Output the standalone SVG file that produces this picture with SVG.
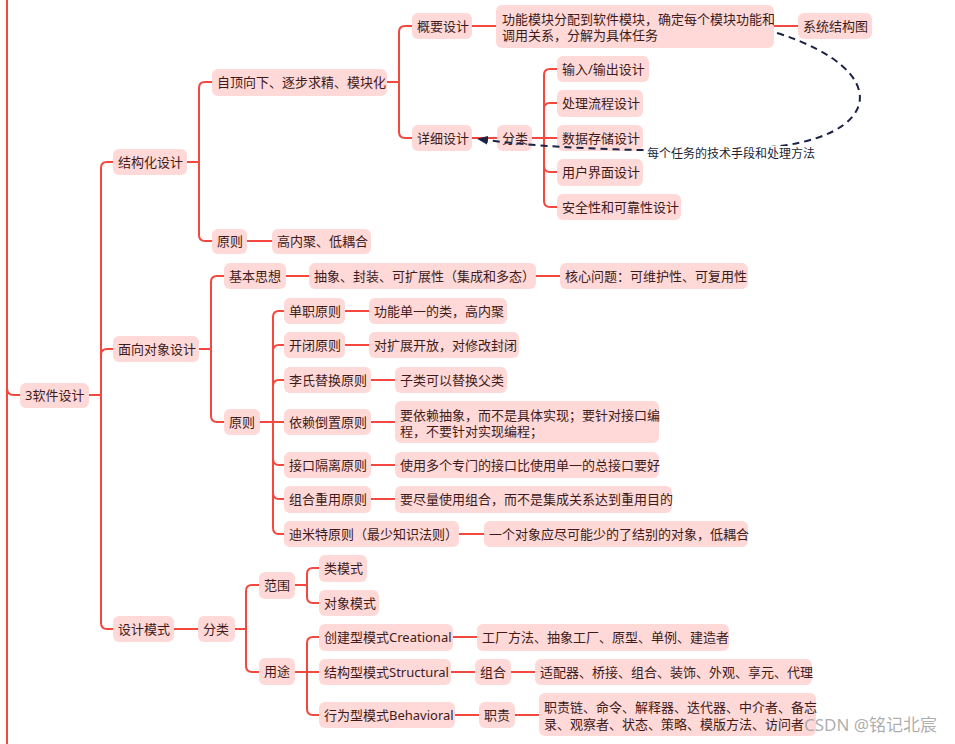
<svg xmlns="http://www.w3.org/2000/svg" width="955" height="744" viewBox="0 0 955 744">
<defs>
<style>
.n rect{fill:#fed9d7;}
.n text,.t{font-family:"Noto Sans","Noto Sans CJK SC",sans-serif;font-size:13px;fill:#3e1b1b;}
.c path{fill:none;stroke:#f4483f;stroke-width:2;}
.d{fill:none;stroke:#1b2244;stroke-width:2;stroke-dasharray:7 5;}
.lbl{font-family:"Noto Sans","Noto Sans CJK SC",sans-serif;font-size:12px;fill:#1b1f33;}
.wm{font-family:"Noto Sans","Noto Sans CJK SC",sans-serif;font-size:17px;fill:#a0a0a0;fill-opacity:0.85;}
</style>
<marker id="ah" markerWidth="11" markerHeight="9" refX="10" refY="4.5" orient="auto" markerUnits="userSpaceOnUse">
<path d="M0,0 L11,4.5 L0,9 z" fill="#1b2244"/>
</marker>
</defs>
<rect width="955" height="744" fill="#ffffff"/>

<g id="connectors" class="c">
<path d="M7 0 V744"/>
<path d="M7 388 Q7 395 14 395 H20"/>
<path d="M89 395 H101"/>
<path d="M101 395 V168 Q101 162 107 162 H113"/>
<path d="M101 395 V355 Q101 349 107 349 H113"/>
<path d="M101 395 V623 Q101 629 107 629 H113"/>

<path d="M187 162 H199"/>
<path d="M199 162 V88 Q199 82 205 82 H212"/>
<path d="M199 162 V235 Q199 241 205 241 H212"/>
<path d="M247 241 H272"/>

<path d="M387 82 H399"/>
<path d="M399 82 V32 Q399 26 405 26 H412"/>
<path d="M399 82 V132 Q399 138 405 138 H412"/>
<path d="M472 26 H496"/>
<path d="M774 26 H798"/>
<path d="M472 138 H497"/>
<path d="M532 138 H557"/>
<path d="M544 138 V75 Q544 69 550 69 H557"/>
<path d="M544 138 V109 Q544 103 550 103 H557"/>
<path d="M544 138 V166 Q544 172 550 172 H557"/>
<path d="M544 138 V201 Q544 207 550 207 H557"/>

<path d="M199 349 H211"/>
<path d="M211 349 V282 Q211 276 217 276 H224"/>
<path d="M211 349 V416 Q211 422 217 422 H224"/>
<path d="M286 276 H309"/>
<path d="M536 276 H560"/>
<path d="M260 422 H284"/>
<path d="M273 422 V317 Q273 311 279 311 H284"/>
<path d="M273 422 V351 Q273 345 279 345 H284"/>
<path d="M273 422 V386 Q273 380 279 380 H284"/>
<path d="M273 422 V459 Q273 465 279 465 H284"/>
<path d="M273 422 V493 Q273 499 279 499 H284"/>
<path d="M273 422 V528 Q273 534 279 534 H284"/>
<path d="M345 311 H369"/>
<path d="M345 345 H369"/>
<path d="M371 380 H395"/>
<path d="M371 422 H395"/>
<path d="M371 465 H395"/>
<path d="M371 499 H395"/>
<path d="M459 534 H484"/>

<path d="M174 629 H198"/>
<path d="M235 629 H246"/>
<path d="M246 629 V591 Q246 585 252 585 H259"/>
<path d="M246 629 V666 Q246 672 252 672 H259"/>
<path d="M295 585 H307"/>
<path d="M307 585 V574 Q307 568 313 568 H319"/>
<path d="M307 585 V597 Q307 603 313 603 H319"/>
<path d="M295 672 H319"/>
<path d="M307 672 V643 Q307 637 313 637 H319"/>
<path d="M307 672 V709 Q307 715 313 715 H319"/>
<path d="M453 637 H477"/>
<path d="M451 672 H475"/>
<path d="M511 672 H535"/>
<path d="M455 715 H479"/>
<path d="M515 715 H539"/>
</g>

<g id="root" class="n"><rect x="20" y="383" width="69" height="25" rx="6"/><text x="25" y="400">3软件设计</text></g>

<g id="n-jgh" class="n"><rect x="113" y="149" width="74" height="26" rx="6"/><text x="118" y="166.5">结构化设计</text></g>
<g id="n-mxdx" class="n"><rect x="113" y="336" width="86" height="26" rx="6"/><text x="118" y="353.5">面向对象设计</text></g>
<g id="n-sjms" class="n"><rect x="113" y="616" width="61" height="26" rx="6"/><text x="118" y="633.5">设计模式</text></g>

<g id="n-zdxx" class="n"><rect x="212" y="69" width="175" height="27" rx="6"/><text x="217" y="87">自顶向下、逐步求精、模块化</text></g>
<g id="n-yz1" class="n"><rect x="212" y="229" width="35" height="25" rx="6"/><text x="217" y="245.5">原则</text></g>
<g id="n-gnj" class="n"><rect x="272" y="229" width="99" height="25" rx="6"/><text x="277" y="245.5">高内聚、低耦合</text></g>

<g id="n-gysj" class="n"><rect x="412" y="13" width="60" height="26" rx="6"/><text x="417" y="30.5">概要设计</text></g>
<g id="n-gnmk" class="n"><rect x="496" y="5" width="278" height="43" rx="6"/><text x="502" y="24">功能模块分配到软件模块，确定每个模块功能和<tspan x="502" dy="16">调用关系，分解为具体任务</tspan></text></g>
<g id="n-xtjg" class="n"><rect x="798" y="13" width="74" height="26" rx="6"/><text x="803" y="30.5">系统结构图</text></g>

<g id="n-xxsj" class="n"><rect x="412" y="125" width="60" height="26" rx="6"/><text x="417" y="142.5">详细设计</text></g>
<g id="n-fl1" class="n"><rect x="497" y="125" width="35" height="26" rx="6"/><text x="502" y="142.5">分类</text></g>
<g id="n-io" class="n"><rect x="557" y="56" width="92" height="26" rx="6"/><text x="562" y="73.5">输入/输出设计</text></g>
<g id="n-clc" class="n"><rect x="557" y="90" width="86" height="27" rx="6"/><text x="562" y="108">处理流程设计</text></g>
<g id="n-sjcc" class="n"><rect x="557" y="125" width="86" height="26" rx="6"/><text x="562" y="142.5">数据存储设计</text></g>
<g id="n-yhjm" class="n"><rect x="557" y="159" width="86" height="27" rx="6"/><text x="562" y="177">用户界面设计</text></g>
<g id="n-aqx" class="n"><rect x="557" y="194" width="124" height="26" rx="6"/><text x="562" y="211.5">安全性和可靠性设计</text></g>

<g id="n-jbsx" class="n"><rect x="224" y="263" width="62" height="26" rx="6"/><text x="229" y="280.5">基本思想</text></g>
<g id="n-cx" class="n"><rect x="309" y="263" width="227" height="26" rx="6"/><text x="314" y="280.5">抽象、封装、可扩展性（集成和多态）</text></g>
<g id="n-hxwt" class="n"><rect x="560" y="263" width="188" height="26" rx="6"/><text x="565" y="280.5">核心问题：可维护性、可复用性</text></g>
<g id="n-yz2" class="n"><rect x="224" y="409" width="36" height="26" rx="6"/><text x="229" y="426.5">原则</text></g>

<g id="n-dz" class="n"><rect x="284" y="298" width="61" height="26" rx="6"/><text x="289" y="315.5">单职原则</text></g>
<g id="n-dz-d" class="n"><rect x="369" y="298" width="138" height="26" rx="6"/><text x="374" y="315.5">功能单一的类，高内聚</text></g>
<g id="n-kb" class="n"><rect x="284" y="332" width="61" height="26" rx="6"/><text x="289" y="349.5">开闭原则</text></g>
<g id="n-kb-d" class="n"><rect x="369" y="332" width="150" height="26" rx="6"/><text x="374" y="349.5">对扩展开放，对修改封闭</text></g>
<g id="n-ls" class="n"><rect x="284" y="367" width="87" height="26" rx="6"/><text x="289" y="384.5">李氏替换原则</text></g>
<g id="n-ls-d" class="n"><rect x="395" y="367" width="112" height="26" rx="6"/><text x="400" y="384.5">子类可以替换父类</text></g>
<g id="n-yl" class="n"><rect x="284" y="409" width="87" height="26" rx="6"/><text x="289" y="426.5">依赖倒置原则</text></g>
<g id="n-yl-d" class="n"><rect x="395" y="401" width="264" height="42" rx="6"/><text x="400" y="419.5">要依赖抽象，而不是具体实现；要针对接口编<tspan x="400" dy="16">程，不要针对实现编程；</tspan></text></g>
<g id="n-jk" class="n"><rect x="284" y="452" width="87" height="26" rx="6"/><text x="289" y="469.5">接口隔离原则</text></g>
<g id="n-jk-d" class="n"><rect x="395" y="452" width="264" height="26" rx="6"/><text x="400" y="469.5">使用多个专门的接口比使用单一的总接口要好</text></g>
<g id="n-zh" class="n"><rect x="284" y="486" width="87" height="27" rx="6"/><text x="289" y="504">组合重用原则</text></g>
<g id="n-zh-d" class="n"><rect x="395" y="486" width="277" height="27" rx="6"/><text x="400" y="504">要尽量使用组合，而不是集成关系达到重用目的</text></g>
<g id="n-dmt" class="n"><rect x="284" y="521" width="175" height="26" rx="6"/><text x="289" y="538.5">迪米特原则（最少知识法则）</text></g>
<g id="n-dmt-d" class="n"><rect x="484" y="521" width="264" height="26" rx="6"/><text x="489" y="538.5">一个对象应尽可能少的了结别的对象，低耦合</text></g>

<g id="n-fl2" class="n"><rect x="198" y="616" width="37" height="26" rx="6"/><text x="203" y="633.5">分类</text></g>
<g id="n-fw" class="n"><rect x="259" y="572" width="36" height="27" rx="6"/><text x="264" y="590">范围</text></g>
<g id="n-yt" class="n"><rect x="259" y="658" width="36" height="27" rx="6"/><text x="264" y="676">用途</text></g>
<g id="n-lms" class="n"><rect x="319" y="555" width="48" height="27" rx="6"/><text x="324" y="573">类模式</text></g>
<g id="n-dxms" class="n"><rect x="319" y="590" width="60" height="26" rx="6"/><text x="324" y="607.5">对象模式</text></g>
<g id="n-cjx" class="n"><rect x="319" y="624" width="134" height="27" rx="6"/><text x="324" y="642">创建型模式Creational</text></g>
<g id="n-cjx-d" class="n"><rect x="477" y="624" width="252" height="27" rx="6"/><text x="482" y="642">工厂方法、抽象工厂、原型、单例、建造者</text></g>
<g id="n-jgx" class="n"><rect x="319" y="659" width="132" height="26" rx="6"/><text x="324" y="676.5">结构型模式Structural</text></g>
<g id="n-zh2" class="n"><rect x="475" y="659" width="36" height="26" rx="6"/><text x="480" y="676.5">组合</text></g>
<g id="n-jgx-d" class="n"><rect x="535" y="659" width="277" height="26" rx="6"/><text x="540" y="676.5">适配器、桥接、组合、装饰、外观、享元、代理</text></g>
<g id="n-xwx" class="n"><rect x="319" y="702" width="136" height="26" rx="6"/><text x="324" y="719.5">行为型模式Behavioral</text></g>
<g id="n-zz" class="n"><rect x="479" y="702" width="36" height="26" rx="6"/><text x="484" y="719.5">职责</text></g>
<g id="n-xwx-d" class="n"><rect x="539" y="693" width="277" height="43" rx="6"/><text x="544" y="711.5">职责链、命令、解释器、迭代器、中介者、备忘<tspan x="544" dy="17">录、观察者、状态、策略、模版方法、访问者</tspan></text></g>

<g id="dashed-link">
<path class="d" d="M777 33 C895 70 885 140 760 148 C680 153 560 150 478 139" marker-end="url(#ah)"/>
<rect x="647" y="146" width="174" height="15" fill="#ffffff"/>
<text class="lbl" x="647" y="157.5">每个任务的技术手段和处理方法</text>
</g>

<text class="wm" x="804" y="731">CSDN @铭记北宸</text>
</svg>
